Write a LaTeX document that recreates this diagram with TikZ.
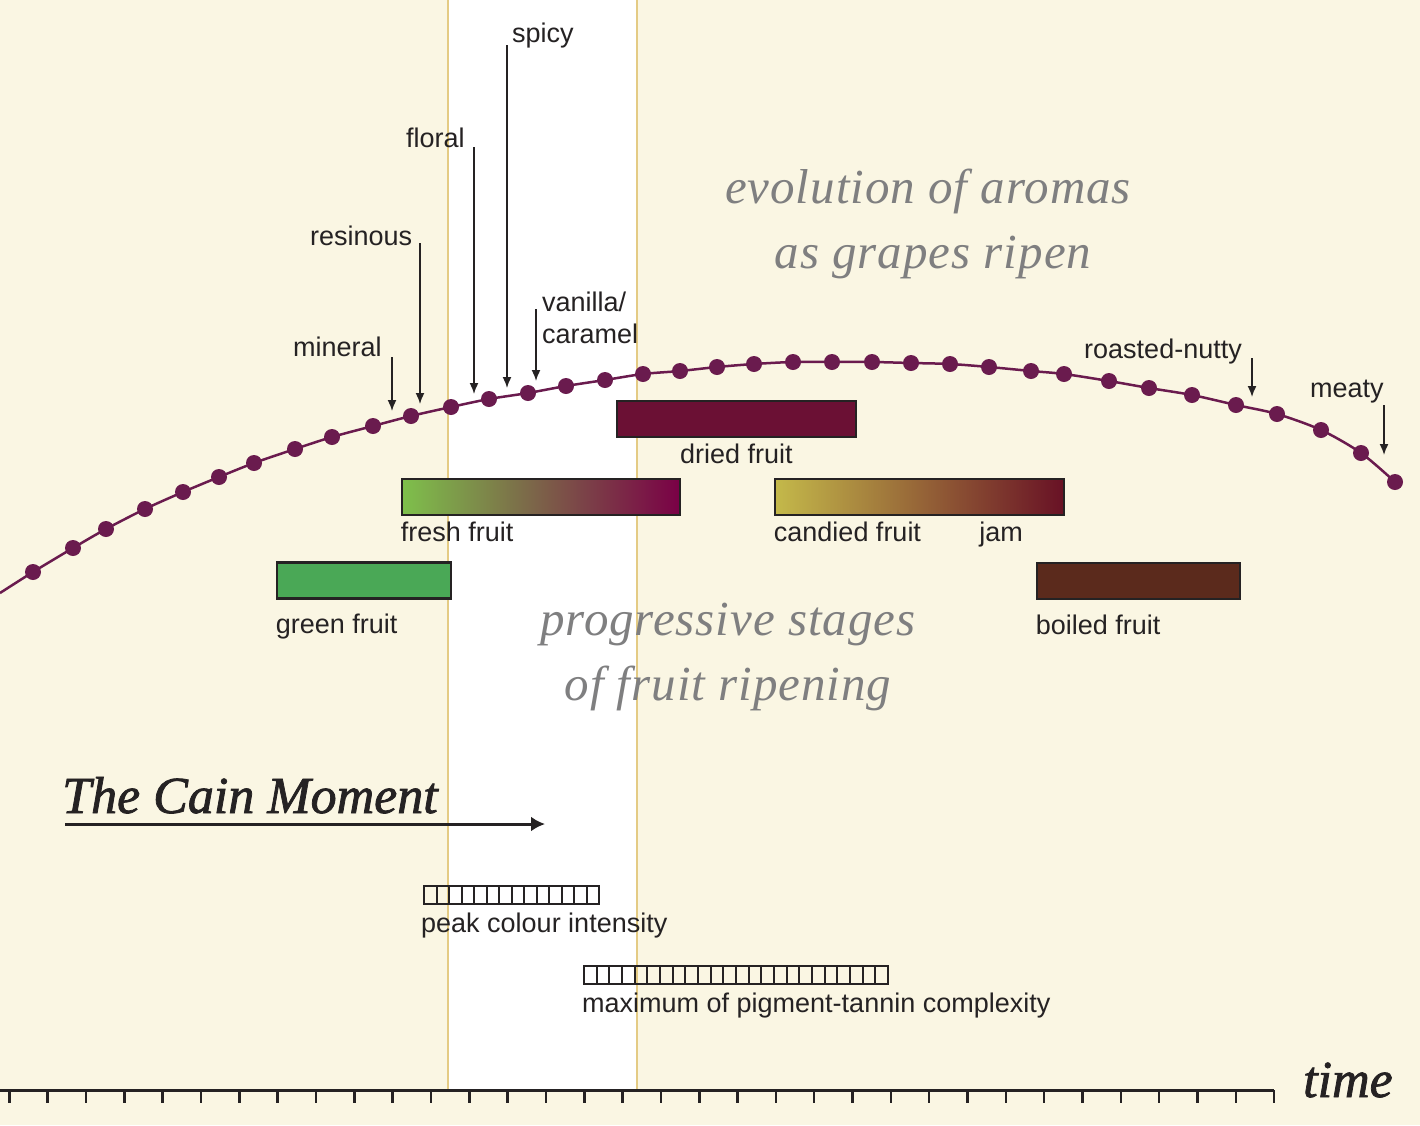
\documentclass[tikz,border=0pt]{standalone}
\usepackage{fontspec}
\setmainfont{Liberation Sans}
\newfontfamily\titlefont[LetterSpace=2]{Liberation Serif}
\newfontfamily\cainfont[FakeBold=1.5]{Liberation Serif}
\usepackage{tikz}
\usetikzlibrary{positioning,arrows.meta}
\usepackage{xcolor}
\definecolor{cream}{HTML}{FAF6E3}
\definecolor{ink}{HTML}{252223}
\definecolor{titlegray}{HTML}{7F7F80}
\definecolor{grape}{HTML}{6A1B4E}
\definecolor{bandline}{HTML}{E4CB84}
\definecolor{driedcol}{HTML}{6B1034}
\definecolor{greencol}{HTML}{4AA856}
\definecolor{boiledcol}{HTML}{5B2A1C}
\definecolor{freshL}{HTML}{7EC04B}
\definecolor{freshM}{HTML}{87706A}
\definecolor{freshR}{HTML}{7A0046}
\definecolor{candL}{HTML}{C4B94A}
\definecolor{candM}{HTML}{93652F}
\definecolor{candR}{HTML}{681125}

\begin{document}
\begin{tikzpicture}[
    x=1pt, y=-1pt,
    lbl/.style={font=\fontsize{27}{30}\selectfont, text=ink, inner sep=0pt},
    ttl/.style={font=\titlefont\itshape\fontsize{49}{60}\selectfont, text=titlegray, inner sep=0pt, anchor=base},
    bar/.style={draw=ink, line width=2.5pt, minimum height=36pt, inner sep=0pt},
    cellbar/.style={draw=ink, line width=2pt, minimum height=18pt, inner sep=0pt},
    aro/.style={draw=ink, line width=1.6pt, -{Latex[length=11pt,width=9pt]}},
    >=Latex
  ]
  % Background
  \fill[cream] (0,0) rectangle (1420,1125);
  \useasboundingbox (0,0) rectangle (1420,1125);
  \fill[white] (448,0) rectangle (637,1090);
  \draw[bandline, line width=1.3pt] (448,0) -- (448,1090);
  \draw[bandline, line width=1.3pt] (637,0) -- (637,1090);

  % Time axis
  \draw[ink, line width=3pt] (0,1090) -- (1274,1090);
  \foreach \k in {0,...,33}
    \draw[ink, line width=2.5pt] (9.3+38.33*\k,1090) -- ++(0,13);
  \node[anchor=base west, inner sep=0pt, text=ink, font=\cainfont\itshape\fontsize{52}{60}\selectfont] (time) at (1303,1097) {time};

  % Grape curve
  \draw[grape, line width=2.5pt] plot[smooth, tension=0.5] coordinates {(0,593) (33,572) (73,548) (106,529) (145,509) (183,492) (219,477) (254,463) (295,449) (332,437) (373,426) (411,416) (451,407) (489,399) (528,393) (566,386) (605,380) (643,374) (680,371) (717,367) (754,364) (793,362) (832,362) (872,362) (911,363) (950,364) (989,367) (1031,371) (1064,374) (1109,381) (1149,388) (1192,395) (1236,405) (1277,414) (1321,430) (1361,453) (1395,482)};
  \foreach \x/\y in {33/572, 73/548, 106/529, 145/509, 183/492, 219/477, 254/463, 295/449, 332/437, 373/426, 411/416, 451/407, 489/399, 528/393, 566/386, 605/380, 643/374, 680/371, 717/367, 754/364, 793/362, 832/362, 872/362, 911/363, 950/364, 989/367, 1031/371, 1064/374, 1109/381, 1149/388, 1192/395, 1236/405, 1277/414, 1321/430, 1361/453, 1395/482}
    \fill[grape] (\x,\y) circle (8pt);

  % Titles
  \node[ttl] (evol) at (928,203) {evolution of aromas};
  \node[ttl] (asgrapes) at (933,268) {as grapes ripen};
  \node[ttl] (progr) at (728,635) {progressive stages};
  \node[ttl] (ofruit) at (728,700) {of fruit ripening};

  % Aroma labels
  \node[lbl, anchor=base west] (spicy) at (512,42) {spicy};
  \node[lbl, anchor=base west] (floral) at (406,147) {floral};
  \node[lbl, anchor=base west] (resin) at (310,245) {resinous};
  \node[lbl, anchor=base west] (mineral) at (293,356) {mineral};
  \node[lbl, anchor=base west] (vanilla) at (542,311) {vanilla/};
  \node[lbl, anchor=base west] (caramel) at (542,343) {caramel};
  \node[lbl, anchor=base west] (roasted) at (1084,358) {roasted-nutty};
  \node[lbl, anchor=base west] (meaty) at (1310,397) {meaty};

  % Aroma arrows
  \coordinate (minTop) at (392,357);  \coordinate (minTip) at (392,411);
  \coordinate (resTop) at (420,243);  \coordinate (resTip) at (420,404);
  \coordinate (florTop) at (474,147); \coordinate (florTip) at (474,394);
  \coordinate (spiTop) at (507,45);   \coordinate (spiTip) at (507,388);
  \coordinate (vanTop) at (536,309);  \coordinate (vanTip) at (536,381);
  \coordinate (roaTop) at (1252,358); \coordinate (roaTip) at (1252,397);
  \coordinate (meaTop) at (1384,405); \coordinate (meaTip) at (1384,455);
  \draw[aro] (minTop) -- (minTip);
  \draw[aro] (resTop) -- (resTip);
  \draw[aro] (florTop) -- (florTip);
  \draw[aro] (spiTop) -- (spiTip);
  \draw[aro] (vanTop) -- (vanTip);
  \draw[aro] (roaTop) -- (roaTip);
  \draw[aro] (meaTop) -- (meaTip);

  % Fruit bars
  \node[bar, fill=driedcol, minimum width=239pt] (driedbar) at (736.5,419) {};
  \node[bar, left color=freshL, middle color=freshM, right color=freshR, minimum width=278pt] (freshbar) at (541,497) {};
  \node[bar, left color=candL, middle color=candM, right color=candR, minimum width=289pt] (candbar) at (919.5,497) {};
  \node[bar, fill=greencol, minimum width=174pt] (greenbar) at (364,580.5) {};
  \node[bar, fill=boiledcol, minimum width=203pt] (boilbar) at (1138.5,581) {};

  % Fruit labels
  \node[lbl, below=5pt of driedbar] (driedLbl) {dried fruit};
  \node[lbl, below right=5pt and 0pt of freshbar.south west] (freshLbl) {fresh fruit};
  \node[lbl, below right=5pt and 0pt of candbar.south west] (candLbl) {candied fruit};
  \node[lbl, anchor=base west] (jamLbl) at ([xshift=58pt]candLbl.base east) {jam};
  \node[lbl, below right=14pt and 0pt of greenbar.south west] (greenLbl) {green fruit};
  \node[lbl, below right=14pt and 0pt of boilbar.south west] (boilLbl) {boiled fruit};

  % The Cain Moment
  \node[anchor=base west, inner sep=0pt, text=ink, font=\cainfont\itshape\fontsize{52}{60}\selectfont] (cain) at (62,813) {The Cain Moment};
  \coordinate (cainStart) at (65,824);
  \coordinate (cainEnd) at (545,824);
  \draw[ink, line width=3pt, -{Latex[length=14pt,width=15pt]}] (cainStart) -- (cainEnd);

  % Colour bars
  \node[cellbar, minimum width=175pt] (peakbar) at (511.5,895) {};
  \foreach \i in {1,...,13}
    \draw[ink, line width=2pt] (424+12.5*\i,886) -- ++(0,18);
  \node[lbl, below right=8pt and -2pt of peakbar.south west] (peakLbl) {peak colour intensity};
  \node[cellbar, minimum width=304pt] (maxbar) at (736,974.5) {};
  \foreach \i in {1,...,23}
    \draw[ink, line width=2pt] (584+12.667*\i,965.5) -- ++(0,18);
  \node[lbl, below right=8pt and -1pt of maxbar.south west] (maxLbl) {maximum of pigment-tannin complexity};
\end{tikzpicture}
\end{document}
